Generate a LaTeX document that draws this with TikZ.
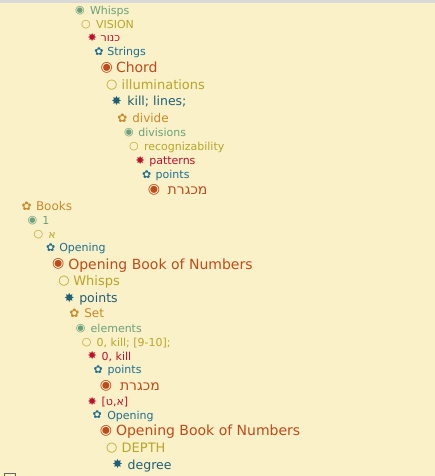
\documentclass[tikz,border=0pt]{standalone}
\usepackage{fontspec}
\setmainfont{DejaVu Sans}
\newfontfamily\hebfont[Script=Hebrew]{DejaVu Sans}
\TeXXeTstate=1
\newcommand\heb[1]{{\hebfont\beginR #1\endR}}

% outline level colours
\definecolor{paper}{HTML}{FAF1C9}
\definecolor{topbar}{HTML}{D9D9D9}
\definecolor{lvA}{HTML}{BF4A1A}
\definecolor{lvB}{HTML}{B8A52A}
\definecolor{lvC}{HTML}{1F5F75}
\definecolor{lvD}{HTML}{C98A2A}
\definecolor{lvE}{HTML}{6AA07A}
\definecolor{lvF}{HTML}{B8A52A}
\definecolor{lvG}{HTML}{BE0F2D}
\definecolor{lvH}{HTML}{1E6E91}

\tikzset{
  txt/.style={anchor=base west, inner sep=0pt, outer sep=0pt},
  bul/.style={anchor=center, inner sep=0pt, outer sep=0pt},
  lv1/.style={text=lvA, font=\fontsize{14}{16}\selectfont},
  lv2/.style={text=lvB, font=\fontsize{13}{15}\selectfont},
  lv3/.style={text=lvC, font=\fontsize{12.5}{15}\selectfont},
  lv4/.style={text=lvD, font=\fontsize{12}{14}\selectfont},
  lv5/.style={text=lvE, font=\fontsize{11}{13}\selectfont},
  lv6/.style={text=lvF, font=\fontsize{11}{13}\selectfont},
  lv7/.style={text=lvG, font=\fontsize{11}{13}\selectfont},
  lv8/.style={text=lvH, font=\fontsize{11}{13}\selectfont},
}

\begin{document}
\begin{tikzpicture}[x=1pt, y=-1pt]
  % window background
  \fill[paper] (0,0) rectangle (435,476);
  \fill[topbar] (0,0) rectangle (435,3);
  \useasboundingbox (0,0) rectangle (435,476);
  \begin{scope}
    \clip (0,0) rectangle (435,476);
    \draw[gray!80!black, line width=0.8pt] (4.3,473.6) rectangle (15.3,485);
  \end{scope}

  % first subtree
  \node[bul,lv5] (b1) at (80,10.7) {◉};
  \node[txt,lv5] (t1) at (90,14.5) {Whisps};
  \node[bul,lv6] (b2) at (86,24.3) {○};
  \node[txt,lv6] (t2) at (96,28.3) {VISION};
  \node[bul,lv7] (b3) at (92.3,37.3) {✸};
  \node[txt,lv7] (t3) at (100.7,41.3) {\heb{כנור}};
  \node[bul,lv8] (b4) at (99,51.7) {✿};
  \node[txt,lv8] (t4) at (107.3,55.5) {Strings};
  \node[bul,lv1] (b5) at (106.7,67.7) {◉};
  \node[txt,lv1] (t5) at (116,72.7) {Chord};
  \node[bul,lv2] (b6) at (111.7,85) {○};
  \node[txt,lv2] (t6) at (121.7,90) {illuminations};
  \node[bul,lv3] (b7) at (116.7,101) {✸};
  \node[txt,lv3] (t7) at (127.3,106) {kill; lines;};
  \node[bul,lv4] (b8) at (122.3,118.3) {✿};
  \node[txt,lv4] (t8) at (132.3,122.3) {divide};
  \node[bul,lv5] (b9) at (129,132.3) {◉};
  \node[txt,lv5] (t9) at (138.3,136) {divisions};
  \node[bul,lv6] (b10) at (134,146.7) {○};
  \node[txt,lv6] (t10) at (144,150) {recognizability};
  \node[bul,lv7] (b11) at (140.3,160) {✸};
  \node[txt,lv7] (t11) at (149.3,164) {patterns};
  \node[bul,lv8] (b12) at (146.7,174.3) {✿};
  \node[txt,lv8] (t12) at (155.7,178) {points};
  \node[bul,lv1] (b13) at (154,190) {◉};
  \node[txt,lv1] (t13) at (167.7,194.5) {\heb{מכגרת}};

  % second subtree
  \node[bul,lv4] (b14) at (26.7,206) {✿};
  \node[txt,lv4] (t14) at (36,210) {Books};
  \node[bul,lv5] (b15) at (32.3,220.7) {◉};
  \node[txt,lv5] (t15) at (42.3,224.5) {1};
  \node[bul,lv6] (b16) at (38.3,235) {○};
  \node[txt,lv6] (t16) at (48.3,238.5) {\heb{א}};
  \node[bul,lv8] (b17) at (50.7,247.7) {✿};
  \node[txt,lv8] (t17) at (59.3,251.5) {Opening};
  \node[bul,lv1] (b18) at (58.3,264.3) {◉};
  \node[txt,lv1] (t18) at (68.3,269.3) {Opening Book of Numbers};
  \node[bul,lv2] (b19) at (64,281) {○};
  \node[txt,lv2] (t19) at (73.3,285.5) {Whisps};
  \node[bul,lv3] (b20) at (69.3,297.7) {✸};
  \node[txt,lv3] (t20) at (79.3,302) {points};
  \node[bul,lv4] (b21) at (74.3,313.3) {✿};
  \node[txt,lv4] (t21) at (84.3,317.7) {Set};
  \node[bul,lv5] (b22) at (80.7,328.3) {◉};
  \node[txt,lv5] (t22) at (90.7,332) {elements};
  \node[bul,lv6] (b23) at (86.7,342.7) {○};
  \node[txt,lv6] (t23) at (96.7,346) {0, kill; [9-10];};
  \node[bul,lv7] (b24) at (92.3,355.7) {✸};
  \node[txt,lv7] (t24) at (101.7,360) {0, kill};
  \node[bul,lv8] (b25) at (98.3,370) {✿};
  \node[txt,lv8] (t25) at (107.7,373.7) {points};
  \node[bul,lv1] (b26) at (106,385.7) {◉};
  \node[txt,lv1] (t26) at (120,390.5) {\heb{מכגרת}};
  \node[bul,lv7] (b27) at (92.3,401.7) {✸};
  \node[txt,lv7] (t27) at (101.7,405.3) {[\heb{א,ט}]};
  \node[bul,lv8] (b28) at (97.3,414.3) {✿};
  \node[txt,lv8] (t28) at (107.3,419) {Opening};
  \node[bul,lv1] (b29) at (106,430.7) {◉};
  \node[txt,lv1] (t29) at (116,435.7) {Opening Book of Numbers};
  \node[bul,lv2] (b30) at (111.7,448.3) {○};
  \node[txt,lv2] (t30) at (121.7,452.5) {DEPTH};
  \node[bul,lv3] (b31) at (117.7,464.3) {✸};
  \node[txt,lv3] (t31) at (127.7,469) {degree};
\end{tikzpicture}
\end{document}
